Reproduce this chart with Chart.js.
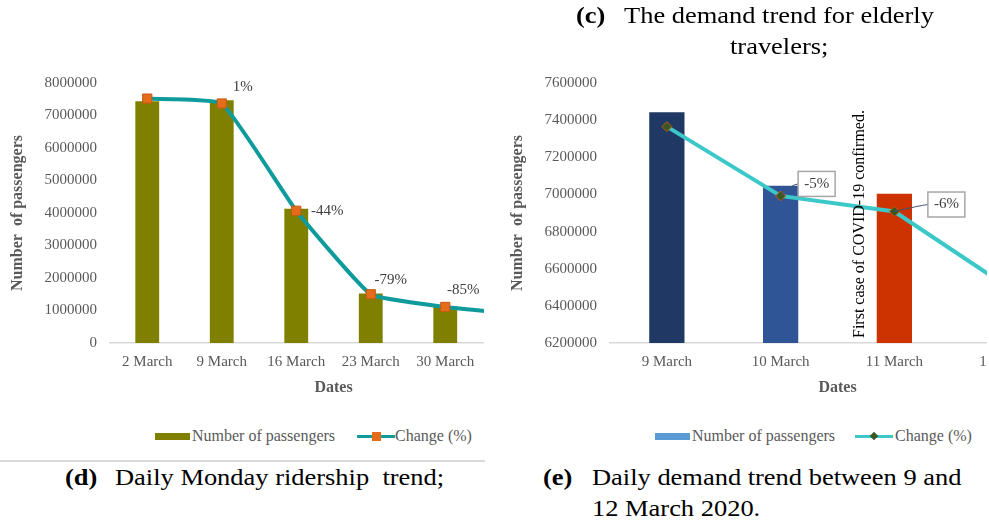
<!DOCTYPE html>
<html>
<head>
<meta charset="utf-8">
<script src="https://cdn.jsdelivr.net/npm/chart.js@4.4.1/dist/chart.umd.min.js"></script>
<style>
  body { margin: 0; width: 989px; height: 526px; background: #fff; position: relative; overflow: hidden;
         font-family: "Liberation Serif", "Times New Roman", serif; }
  .clip { position: absolute; top: 0; height: 400px; overflow: hidden; }
  .cap { position: absolute; font-size: 23px; line-height: 30px; color: #000; white-space: nowrap;
         transform: scaleX(1.15); transform-origin: left center; }
  .lg { position: absolute; font-size: 16px; line-height: 20px; color: #595959; white-space: nowrap; top: 426px; }
  .sw { position: absolute; }
  .sep { position: absolute; left: 0; top: 460px; width: 485px; height: 2px; background: #d9d9d9; }
</style>
</head>
<body>

<div class="clip" style="left:0;width:484px"><canvas id="mondayChart" width="624" height="400"></canvas></div>
<div class="clip" style="left:500px;width:487px"><canvas id="marchChart" width="624" height="400"></canvas></div>

<!-- captions -->
<div class="cap" style="left:576px;top:1px"><b>(c)</b></div>
<div class="cap" style="left:624px;top:1px">The demand trend for elderly</div>
<div class="cap" style="left:730px;top:32px">travelers;</div>

<div class="cap" style="left:65px;top:463px"><b>(d)</b></div>
<div class="cap" style="left:115px;top:463px">Daily Monday ridership&nbsp; trend;</div>

<div class="cap" style="left:543px;top:463px"><b>(e)</b></div>
<div class="cap" style="left:592px;top:463px">Daily demand trend between 9 and</div>
<div class="cap" style="left:592px;top:494px">12 March 2020.</div>

<div class="sep"></div>

<!-- legends -->
<div class="sw" style="left:155px;top:433px;width:35px;height:7px;background:#808000"></div>
<div class="lg" style="left:192px">Number of passengers</div>
<div class="sw" style="left:357px;top:435px;width:38px;height:3px;background:#0f9b9b"></div>
<div class="sw" style="left:372px;top:432px;width:9px;height:9px;background:#e46c1b"></div>
<div class="lg" style="left:395px">Change (%)</div>

<div class="sw" style="left:655px;top:433px;width:35px;height:7px;background:#5b9bd5"></div>
<div class="lg" style="left:692px">Number of passengers</div>
<div class="sw" style="left:855px;top:435px;width:38px;height:3px;background:#3cc8c8"></div>
<div class="sw" style="left:871px;top:433px;width:6px;height:6px;background:#385723;transform:rotate(45deg)"></div>
<div class="lg" style="left:895px">Change (%)</div>

<script>
// (d) weekly Mondays
const mondayDates = ['2 March', '9 March', '16 March', '23 March', '30 March', '6 April'];
const mondayPassengers = [7440000, 7470000, 4130000, 1520000, 1120000, 900000];
const mondayChange = [7520000, 7370000, 4070000, 1500000, 1110000, 880000];
const mondayChangeLabels = ['', '1%', '-44%', '-79%', '-85%', ''];

// (e) 9 - 12 March
const marchDates = ['9 March', '10 March', '11 March', '12 March'];
const marchPassengers = [7442000, 7047000, 7003000, 6480000];
const marchChange = [7365000, 6992000, 6908000, 6500000];
const marchChangeLabels = ['', '-5%', '-6%', ''];

const serif = '"Liberation Serif", "Times New Roman", serif';
const grey = '#595959';

// draws the % labels next to the line points
const pointLabels = {
  id: 'pointLabels',
  afterDatasetsDraw(chart, args, opts) {
    if (!opts.texts) return;
    const meta = chart.getDatasetMeta(opts.dataset);
    const ctx = chart.ctx;
    ctx.save();
    ctx.font = '15px ' + serif;
    ctx.textAlign = 'center';
    ctx.textBaseline = 'middle';
    meta.data.forEach(function (pt, i) {
      const t = opts.texts[i];
      if (!t) return;
      const x = pt.x + opts.offsets[i][0];
      const y = pt.y + opts.offsets[i][1];
      if (opts.boxed) {
        const w = ctx.measureText(t).width + 12, h = 25;
        ctx.strokeStyle = '#44546a';
        ctx.lineWidth = 1;
        ctx.beginPath();
        ctx.moveTo(pt.x, pt.y);
        ctx.quadraticCurveTo(x - w / 2 - 8, y + 1, x - w / 2, y);
        ctx.stroke();
        ctx.fillStyle = '#fff';
        ctx.fillRect(x - w / 2, y - h / 2, w, h);
        ctx.strokeStyle = '#a6a6a6';
        ctx.lineWidth = 1.5;
        ctx.strokeRect(x - w / 2, y - h / 2, w, h);
      }
      ctx.fillStyle = '#404040';
      ctx.fillText(t, x, y);
    });
    ctx.restore();
  }
};

// vertical note between two categories
const vNote = {
  id: 'vNote',
  afterDatasetsDraw(chart, args, opts) {
    if (!opts.text) return;
    const ctx = chart.ctx;
    const x = chart.scales.x.getPixelForValue(opts.at);
    ctx.save();
    ctx.translate(x, chart.chartArea.bottom - 5);
    ctx.rotate(-Math.PI / 2);
    ctx.font = '16px ' + serif;
    ctx.fillStyle = '#000';
    ctx.textAlign = 'left';
    ctx.textBaseline = 'middle';
    ctx.fillText(opts.text, 0, 0);
    ctx.restore();
  }
};

function axes(min, max, step) {
  return {
    x: {
      grid: { display: false, drawTicks: false },
      border: { color: '#d9d9d9', width: 1.5 },
      ticks: { color: grey, font: { family: serif, size: 15 }, padding: 10, maxRotation: 0, autoSkip: false },
      title: { display: true, text: 'Dates', color: grey, font: { family: serif, size: 16, weight: 'bold' }, padding: { top: 0, bottom: 3 } },
      afterFit: function (s) { s.height = 57; }
    },
    y: {
      min: min, max: max,
      grid: { display: false, drawTicks: false },
      border: { display: false },
      ticks: { stepSize: step, color: grey, font: { family: serif, size: 15 }, padding: 13,
               callback: function (v) { return String(v); } },
      title: { display: true, text: 'Number  of passengers', color: grey, font: { family: serif, size: 16, weight: 'bold' }, padding: { top: 8, bottom: 0 } },
      afterFit: function (s) { s.width = 110; }
    }
  };
}

new Chart(document.getElementById('mondayChart'), {
  type: 'bar',
  data: {
    labels: mondayDates,
    datasets: [{
      type: 'line',
      label: 'Change (%)',
      data: mondayChange,
      order: 0,
      borderColor: '#0f9b9b',
      borderWidth: 4,
      tension: 0.12,
      pointStyle: 'rect',
      pointRadius: 6.5,
      pointBackgroundColor: '#e46c1b',
      pointBorderColor: '#c65911',
      pointBorderWidth: 1
    }, {
      label: 'Number of passengers',
      data: mondayPassengers,
      order: 1,
      backgroundColor: '#808000',
      barPercentage: 0.32,
      categoryPercentage: 1
    }]
  },
  options: {
    responsive: false,
    animation: false,
    layout: { padding: { top: 83, right: 67, bottom: 0, left: 0 } },
    scales: axes(0, 8000000, 1000000),
    plugins: {
      legend: { display: false },
      tooltip: { enabled: false },
      pointLabels: { dataset: 0, texts: mondayChangeLabels, offsets: [[0, 0], [21, -16], [31, 0], [20, -14], [18, -17], [0, 0]] }
    }
  },
  plugins: [pointLabels]
});

new Chart(document.getElementById('marchChart'), {
  type: 'bar',
  data: {
    labels: marchDates,
    datasets: [{
      type: 'line',
      label: 'Change (%)',
      data: marchChange,
      order: 0,
      borderColor: '#3cc8c8',
      borderWidth: 4,
      tension: 0,
      pointStyle: 'rectRot',
      pointRadius: 5,
      pointBackgroundColor: '#385723',
      pointBorderColor: '#c55a11',
      pointBorderWidth: 1
    }, {
      label: 'Number of passengers',
      data: marchPassengers,
      order: 1,
      backgroundColor: ['#203864', '#2f5597', '#cc3300', '#5b9bd5'],
      barPercentage: 0.31,
      categoryPercentage: 1
    }]
  },
  options: {
    responsive: false,
    animation: false,
    layout: { padding: { top: 83, right: 59, bottom: 0, left: 0 } },
    scales: axes(6200000, 7600000, 200000),
    plugins: {
      legend: { display: false },
      tooltip: { enabled: false },
      pointLabels: { dataset: 0, boxed: true, texts: marchChangeLabels, offsets: [[0, 0], [36, -12], [52, -7], [0, 0]] },
      vNote: { text: 'First case of COVID-19 confirmed.', at: 1.7 }
    }
  },
  plugins: [pointLabels, vNote]
});
</script>
</body>
</html>
